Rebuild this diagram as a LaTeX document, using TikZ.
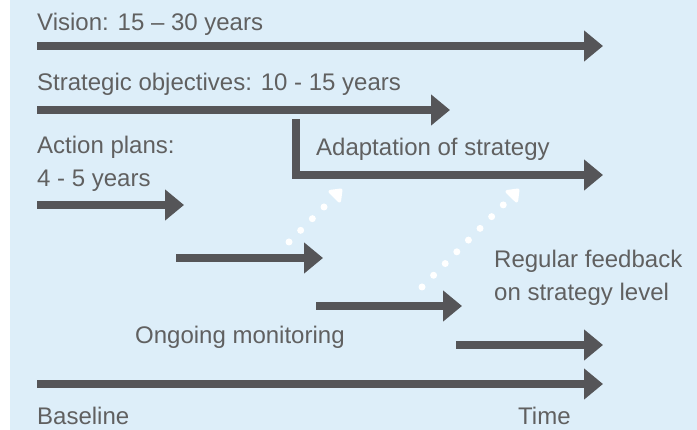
\documentclass[tikz,border=0pt]{standalone}
\usepackage{fontspec}
\setmainfont{Liberation Sans}
\usetikzlibrary{arrows.meta,positioning}
\definecolor{panelblue}{HTML}{DDEEF9}
\definecolor{bargrey}{HTML}{555558}
\definecolor{textgrey}{HTML}{606060}

\begin{document}
\begin{tikzpicture}[x=1pt,y=-1pt,
    timebar/.style={draw=bargrey,line width=8.5pt,
      -{Triangle[length=19pt,width=30pt]}},
    elbowbar/.style={timebar,line cap=rect},
    feedback/.style={draw=white,line width=7pt,line cap=round,
      dash pattern=on 0pt off 16.5pt,
      -{Triangle[length=13pt,width=19pt,round]}},
    lbl/.style={anchor=base west,inner sep=0pt,text=textgrey,
      font=\fontsize{24}{33}\selectfont,align=left}]
  \useasboundingbox (0,0) rectangle (697,430);
  \fill[panelblue] (10,0) rectangle (697,430);

  % bar ends
  \coordinate (vis-s) at (37,46);   \coordinate (vis-e) at (603,46);
  \coordinate (obj-s) at (37,110);  \coordinate (obj-e) at (450,110);
  \coordinate (act-s) at (37,205);  \coordinate (act-e) at (184,205);
  \coordinate (ada-s) at (296,123); \coordinate (ada-e) at (603,175);
  \coordinate (mon1-s) at (176,258); \coordinate (mon1-e) at (323,258);
  \coordinate (mon2-s) at (316,306); \coordinate (mon2-e) at (462,306);
  \coordinate (mon3-s) at (456,345); \coordinate (mon3-e) at (603,345);
  \coordinate (base-s) at (37,384); \coordinate (base-e) at (603,384);
  \coordinate (fb1-s) at (289,242); \coordinate (fb1-e) at (342,189);
  \coordinate (fb2-s) at (422,287); \coordinate (fb2-e) at (519,189);

  % labels (multi-line ones sit on their last line)
  \node[lbl] (vision) at (37,31) {Vision: 15 -- 30 years};
  \node[lbl] (objectives) at (37,91) {Strategic objectives: 10 - 15 years};
  \node[lbl] (actions) at (37,187) {Action plans:\\4 - 5 years};
  \node[lbl] (adaptation) at (316,156) {Adaptation of strategy};
  \node[lbl] (regular) at (494,301) {Regular feedback\\on strategy level};
  \node[lbl] (monitoring) at (135,344) {Ongoing monitoring};
  \node[lbl] (baseline) at (37,425) {Baseline};
  \node[lbl] (time) at (518,425) {Time};

  % bars
  \draw[timebar] (vis-s) -- (vis-e);
  \draw[timebar] (obj-s) -- (obj-e);
  \draw[timebar] (act-s) -- (act-e);
  \draw[elbowbar] (ada-s) |- (ada-e);
  \draw[timebar] (mon1-s) -- (mon1-e);
  \draw[timebar] (mon2-s) -- (mon2-e);
  \draw[timebar] (mon3-s) -- (mon3-e);
  \draw[timebar] (base-s) -- (base-e);

  % feedback loops
  \draw[feedback] (fb1-s) -- (fb1-e);
  \draw[feedback] (fb2-s) -- (fb2-e);
\end{tikzpicture}
\end{document}
